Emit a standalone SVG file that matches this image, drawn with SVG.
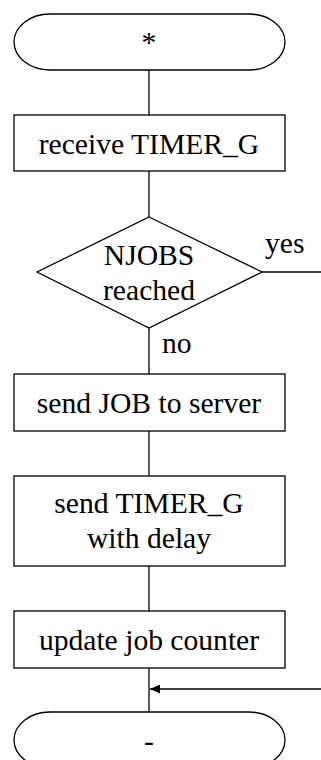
<svg xmlns="http://www.w3.org/2000/svg" width="321" height="760" viewBox="0 0 321 760">
<style>
.s{fill:#fff;stroke:#000;stroke-width:1.3}
.t{font-family:"Liberation Serif","Times New Roman",serif;font-size:29.6px;fill:#000;text-anchor:middle}
.l{font-family:"Liberation Serif","Times New Roman",serif;font-size:29.6px;fill:#000}
.c{fill:none;stroke:#000;stroke-width:1.3}
</style>
<defs>
<marker id="ah" markerWidth="11" markerHeight="9" refX="10" refY="4.5" orient="auto" markerUnits="userSpaceOnUse">
<path d="M0,0 L10,4.5 L0,9 Z" fill="#000"/>
</marker>
</defs>
<g id="connectors">
<line class="c" x1="149" y1="70" x2="149" y2="115"/>
<line class="c" x1="149" y1="171" x2="149" y2="217"/>
<line class="c" x1="262" y1="272" x2="321" y2="272"/>
<line class="c" x1="149" y1="328" x2="149" y2="374"/>
<line class="c" x1="149" y1="431" x2="149" y2="476"/>
<line class="c" x1="149" y1="566" x2="149" y2="611"/>
<line class="c" x1="149" y1="668" x2="149" y2="712"/>
<line class="c" x1="321" y1="689" x2="150" y2="689" marker-end="url(#ah)"/>
<text class="l" x="265" y="253">yes</text>
<text class="l" x="162" y="353">no</text>
</g>
<g id="start">
<path class="s" d="M50,14 H249 A36,28 0 0 1 249,70 H50 A36,28 0 0 1 50,14 Z"/>
<text class="t" x="149" y="52">*</text>
</g>
<g id="receive">
<rect class="s" x="14" y="115" width="271" height="56"/>
<text class="t" x="149" y="154">receive TIMER_G</text>
</g>
<g id="decision">
<polygon class="s" points="149,217 262,272 149,328 37,272"/>
<text class="t" x="149" y="265">NJOBS</text>
<text class="t" x="149" y="300">reached</text>
</g>
<g id="sendjob">
<rect class="s" x="14" y="374" width="271" height="57"/>
<text class="t" x="149" y="413">send JOB to server</text>
</g>
<g id="sendtimer">
<rect class="s" x="14" y="476" width="271" height="90"/>
<text class="t" x="149" y="513">send TIMER_G</text>
<text class="t" x="149" y="548">with delay</text>
</g>
<g id="update">
<rect class="s" x="14" y="611" width="271" height="57"/>
<text class="t" x="149" y="650">update job counter</text>
</g>
<g id="end">
<path class="s" d="M50,712 H249 A36,28 0 0 1 249,768 H50 A36,28 0 0 1 50,712 Z"/>
<text class="t" x="149" y="751">-</text>
</g>
</svg>
